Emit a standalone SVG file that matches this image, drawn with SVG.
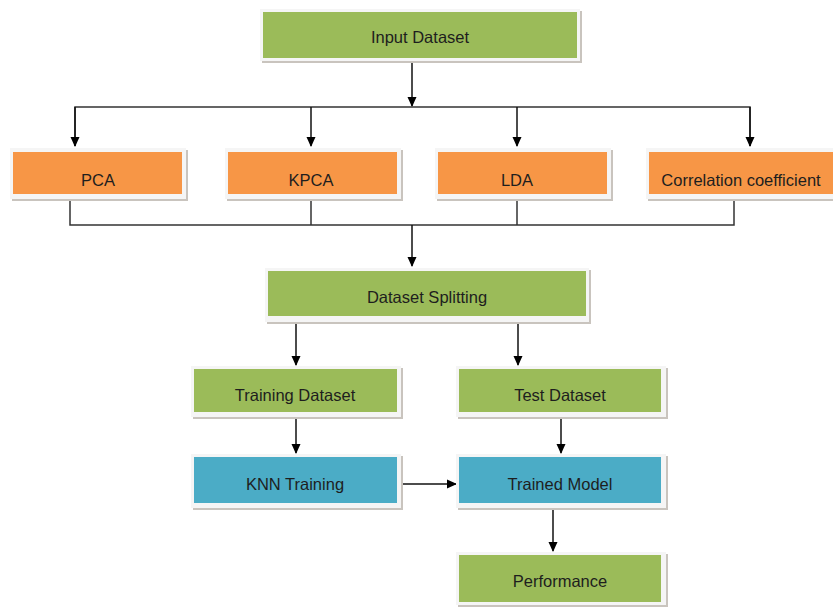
<svg xmlns="http://www.w3.org/2000/svg" width="833" height="607" viewBox="0 0 833 607">
<style>
.sh{fill:#c9c4be}
.bd{fill:#f5f5f5}
.g{fill:#9bbb59}
.o{fill:#f79646}
.b{fill:#4bacc6}
.t{font-family:"Liberation Sans",Arial,sans-serif;font-size:16.5px;fill:#1e1e1e;text-anchor:middle;dominant-baseline:central}
.c{stroke:#111;stroke-width:1.5;fill:none}
.c2{stroke:#333;stroke-width:1.5;fill:none}
</style>
<defs>
<marker id="ah" markerWidth="10" markerHeight="10" refX="9" refY="5" orient="auto" markerUnits="userSpaceOnUse">
<path d="M0,0.5 L10,5 L0,9.5 z" fill="#000"/>
</marker>
</defs>
<rect width="833" height="607" fill="#fff"/>
<g id="connectors">
<line class="c" x1="412" y1="60" x2="412" y2="106" marker-end="url(#ah)"/>
<polyline class="c2" points="75,146 75,107 750,107 750,146"/>
<line class="c" x1="75" y1="107" x2="75" y2="146" marker-end="url(#ah)"/>
<line class="c" x1="311" y1="107" x2="311" y2="146" marker-end="url(#ah)"/>
<line class="c" x1="517" y1="107" x2="517" y2="146" marker-end="url(#ah)"/>
<line class="c" x1="750" y1="107" x2="750" y2="146" marker-end="url(#ah)"/>
<polyline class="c2" points="70,197 70,225 734,225 734,197"/>
<line class="c2" x1="311" y1="197" x2="311" y2="225"/>
<line class="c2" x1="517" y1="197" x2="517" y2="225"/>
<line class="c" x1="412" y1="225" x2="412" y2="266" marker-end="url(#ah)"/>
<line class="c" x1="296" y1="319" x2="296" y2="365" marker-end="url(#ah)"/>
<line class="c" x1="518" y1="319" x2="518" y2="365" marker-end="url(#ah)"/>
<line class="c" x1="296" y1="415" x2="296" y2="453" marker-end="url(#ah)"/>
<line class="c" x1="561" y1="415" x2="561" y2="453" marker-end="url(#ah)"/>
<line class="c" x1="398" y1="484" x2="456" y2="484" marker-end="url(#ah)"/>
<line class="c" x1="553" y1="506" x2="553" y2="551" marker-end="url(#ah)"/>
</g>
<g id="input">
<rect class="sh" x="262" y="11" width="320" height="52"/>
<rect class="bd" x="260" y="9" width="320" height="52"/>
<rect class="g" x="263" y="12" width="314" height="46"/>
<text class="t" x="420" y="37">Input Dataset</text>
</g>
<g id="pca">
<rect class="sh" x="12" y="150" width="176" height="51"/>
<rect class="bd" x="10" y="148" width="176" height="51"/>
<rect class="o" x="13" y="152" width="169" height="42"/>
<text class="t" x="98" y="180">PCA</text>
</g>
<g id="kpca">
<rect class="sh" x="227" y="150" width="176" height="51"/>
<rect class="bd" x="225" y="148" width="176" height="51"/>
<rect class="o" x="228" y="152" width="169" height="42"/>
<text class="t" x="311" y="180">KPCA</text>
</g>
<g id="lda">
<rect class="sh" x="437" y="150" width="176" height="51"/>
<rect class="bd" x="435" y="148" width="176" height="51"/>
<rect class="o" x="438" y="152" width="169" height="42"/>
<text class="t" x="517" y="180">LDA</text>
</g>
<g id="corr">
<rect class="sh" x="648" y="150" width="190" height="51"/>
<rect class="bd" x="646" y="148" width="190" height="51"/>
<rect class="o" x="649" y="152" width="184" height="42"/>
<text class="t" x="741" y="180">Correlation coefficient</text>
</g>
<g id="split">
<rect class="sh" x="267" y="270" width="324" height="54"/>
<rect class="bd" x="265" y="268" width="324" height="54"/>
<rect class="g" x="268" y="271" width="318" height="45"/>
<text class="t" x="427" y="297">Dataset Splitting</text>
</g>
<g id="training">
<rect class="sh" x="193" y="368" width="210" height="51"/>
<rect class="bd" x="191" y="366" width="210" height="51"/>
<rect class="g" x="194" y="369" width="203" height="43"/>
<text class="t" x="295" y="395">Training Dataset</text>
</g>
<g id="test">
<rect class="sh" x="458" y="368" width="210" height="51"/>
<rect class="bd" x="456" y="366" width="210" height="51"/>
<rect class="g" x="459" y="369" width="202" height="43"/>
<text class="t" x="560" y="395">Test Dataset</text>
</g>
<g id="knn">
<rect class="sh" x="193" y="456" width="210" height="54"/>
<rect class="bd" x="191" y="454" width="210" height="54"/>
<rect class="b" x="194" y="457" width="203" height="46"/>
<text class="t" x="295" y="484">KNN Training</text>
</g>
<g id="trained">
<rect class="sh" x="458" y="456" width="210" height="54"/>
<rect class="bd" x="456" y="454" width="210" height="54"/>
<rect class="b" x="459" y="457" width="202" height="46"/>
<text class="t" x="560" y="484">Trained Model</text>
</g>
<g id="performance">
<rect class="sh" x="458" y="554" width="210" height="53"/>
<rect class="bd" x="456" y="552" width="210" height="53"/>
<rect class="g" x="459" y="555" width="202" height="47"/>
<text class="t" x="560" y="581">Performance</text>
</g>
</svg>
